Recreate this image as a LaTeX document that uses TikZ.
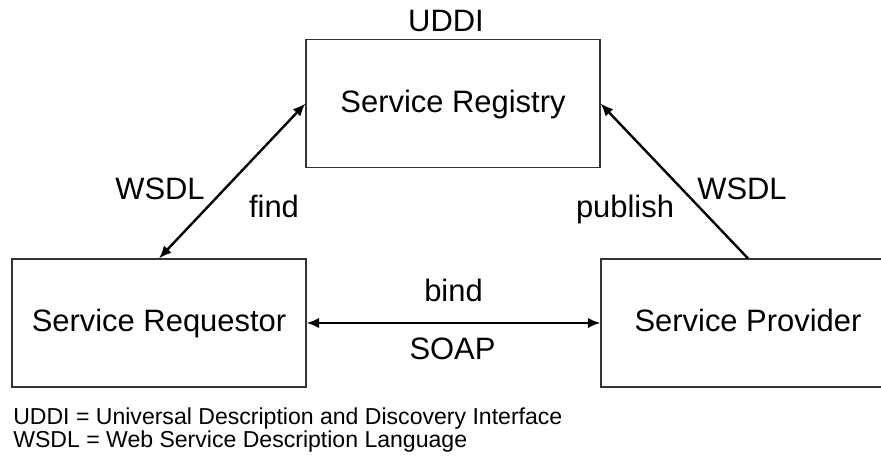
\documentclass[tikz,border=0pt]{standalone}
\usepackage{fontspec}
\setmainfont{Liberation Sans}
\usetikzlibrary{arrows.meta}

\begin{document}
\begin{tikzpicture}[
    >={Latex[length=9pt,width=7.5pt]},
    soa role/.style={
        draw=black!80,
        line width=0.8pt,
        minimum width=7.35cm,
        minimum height=3.2cm,
        inner sep=0pt,
        text height=0.55cm,
        text depth=0.1cm,
        font=\fontsize{22}{26}\selectfont
    },
    soa label/.style={
        anchor=base,
        inner sep=0pt,
        font=\fontsize{22}{26}\selectfont
    },
    soa note/.style={
        anchor=base west,
        inner sep=0pt,
        font=\fontsize{16.4}{18}\selectfont
    },
    soa link/.style={
        line width=1.7pt,
        draw=black
    }
]
    \useasboundingbox (0,0) rectangle (22.025,11.55);
    \clip (0,0) rectangle (22.025,11.55);

    % Die drei Rollen
    \node[soa role] (registry) at (11.325,8.9625) {Service Registry};
    \node[soa role] (requestor) at (3.975,3.475) {Service Requestor};
    \node[soa role] (provider) at (18.7,3.475) {Service Provider};
    \node[soa label] (uddi) at (11.15,10.75) {UDDI};

    % Verbindungen zwischen den Rollen
    \draw[soa link, <->] (requestor.north) -- (registry.west);
    \draw[soa link, ->] (provider.north) -- (registry.east);
    \draw[soa link, <->] (requestor.east) -- (provider.west);

    % Beschriftungen der Verbindungen
    \node[soa label] (findwsdl) at (4.0,6.55) {WSDL};
    \node[soa label] (find) at (6.85,6.1) {find};
    \node[soa label] (publish) at (15.625,6.1) {publish};
    \node[soa label] (publishwsdl) at (18.55,6.55) {WSDL};
    \node[soa label] (bind) at (11.3375,4.0) {bind};
    \node[soa label] (soap) at (11.3125,2.55) {SOAP};

    % Legende
    \node[soa note] (uddinote) at (0.325,0.925)
        {UDDI = Universal Description and Discovery Interface};
    \node[soa note] (wsdlnote) at (0.325,0.35)
        {WSDL = Web Service Description Language};
\end{tikzpicture}
\end{document}
